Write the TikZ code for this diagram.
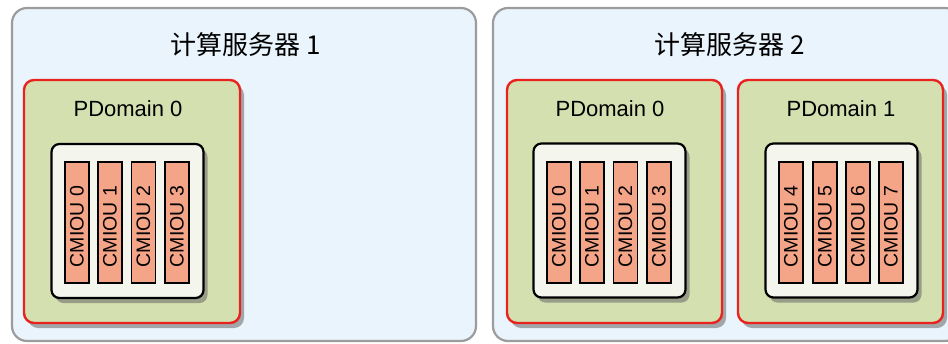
\documentclass[tikz,border=0pt]{standalone}
\usepackage{fontspec}
\setmainfont{Liberation Sans}
\newfontfamily\cjk{Noto Sans CJK SC}
\usetikzlibrary{shadows}
\definecolor{srvfill}{HTML}{EAF4FC}
\definecolor{srvline}{HTML}{9C9C9C}
\definecolor{pdfill}{HTML}{D5E0B0}
\definecolor{pdline}{HTML}{E8221E}
\definecolor{cfill}{HTML}{F4F6EE}
\definecolor{barfill}{HTML}{F4A487}
\tikzset{
  server/.style={draw=srvline, line width=2.2pt, fill=srvfill, rounded corners=15pt, inner sep=0pt},
  title/.style={font=\cjk\fontsize{26}{30}\selectfont, inner sep=0pt},
  pdbox/.style={draw=pdline, line width=2.4pt, fill=pdfill, rounded corners=10pt, inner sep=0pt,
    minimum width=#1, minimum height=243pt,
    drop shadow={shadow xshift=4pt, shadow yshift=-5pt, fill=black!60, opacity=0.55}},
  pdlabel/.style={font=\fontsize{22}{26}\selectfont, inner sep=0pt},
  cbox/.style={draw=black, line width=2.2pt, fill=cfill, rounded corners=8pt, inner sep=0pt,
    minimum width=152pt, minimum height=154pt,
    drop shadow={shadow xshift=4pt, shadow yshift=-5pt, fill=black!60, opacity=0.55}},
  bar/.style={draw=black, line width=1.6pt, fill=barfill, inner sep=0pt, rotate=90,
    minimum width=121pt, minimum height=24pt, font=\fontsize{19.5}{22}\selectfont}
}
\newcommand{\cm}[1]{CMIOU #1\hspace*{8pt}}
\begin{document}
\begin{tikzpicture}[x=1pt, y=-1pt]
\useasboundingbox (0,0) rectangle (948,343);
\clip (0,0) rectangle (948,343);
\node[server, minimum width=464pt, minimum height=333pt] (s1) at (244,174.5) {};
\node[server, minimum width=467pt, minimum height=333pt] (s2) at (726.5,174.5) {};
\node[title] (t1) at (246,45) {计算服务器 1};
\node[title] (t2) at (730,45) {计算服务器 2};

\node[pdbox=216pt] (pd1) at (132,201.5) {};
\node[pdbox=215pt] (pd2) at (614.5,201.5) {};
\node[pdbox=205pt] (pd3) at (840.5,201.5) {};
\node[pdlabel] (l1) at (128,109) {PDomain 0};
\node[pdlabel] (l2) at (610,109) {PDomain 0};
\node[pdlabel] (l3) at (841,109) {PDomain 1};

\node[cbox] (c1) at (127.5,221) {};
\node[cbox] (c2) at (609.5,220.5) {};
\node[cbox] (c3) at (841.5,220.5) {};

\node[bar] (b0) at (77,222.5) {\cm{0}};
\node[bar] (b1) at (110,222.5) {\cm{1}};
\node[bar] (b2) at (143.5,222.5) {\cm{2}};
\node[bar] (b3) at (177,222.5) {\cm{3}};
\node[bar] (b4) at (559,222.5) {\cm{0}};
\node[bar] (b5) at (592,222.5) {\cm{1}};
\node[bar] (b6) at (625.5,222.5) {\cm{2}};
\node[bar] (b7) at (659,222.5) {\cm{3}};
\node[bar] (b8) at (791,222.5) {\cm{4}};
\node[bar] (b9) at (825,222.5) {\cm{5}};
\node[bar] (b10) at (858,222.5) {\cm{6}};
\node[bar] (b11) at (891,222.5) {\cm{7}};
\end{tikzpicture}
\end{document}
